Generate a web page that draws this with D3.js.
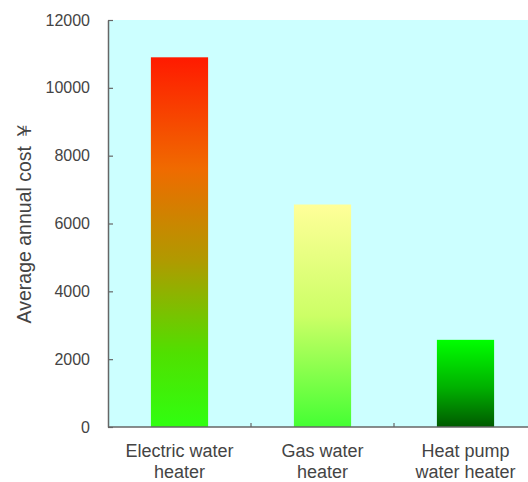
<!DOCTYPE html>
<html>
<head>
<meta charset="utf-8">
<script src="https://cdn.jsdelivr.net/npm/d3@7"></script>
<style>
  html, body { margin: 0; padding: 0; background: #fff; }
  svg { display: block; }
</style>
</head>
<body>
<div id="chart"></div>
<script>
/* Average annual cost of three water heater types, bars with vertical gradients. */

var categories = ['Electric water heater', 'Gas water heater', 'Heat pump water heater'];
var labelLines = [['Electric water', 'heater'], ['Gas water', 'heater'], ['Heat pump', 'water heater']];
var costs = [10900, 6560, 2570];
var yTicks = [0, 2000, 4000, 6000, 8000, 10000, 12000];
var gradientStops = [
  [['0%', '#ff1a00'], ['30%', '#f06a00'], ['55%', '#b09a00'], ['80%', '#50e000'], ['100%', '#30ff10']],
  [['0%', '#ffff99'], ['50%', '#ccff66'], ['100%', '#44ff33']],
  [['0%', '#00ff00'], ['55%', '#00b000'], ['100%', '#005a00']]
];

var W = 528, H = 482;
var marginLeft = 108, marginTop = 20, plotRight = 537, plotBottom = 427;

var svg = d3.select('#chart').append('svg')
  .attr('width', W)
  .attr('height', H)
  .style('font-family', 'Arial, "Liberation Sans", sans-serif');

var x = d3.scaleBand()
  .domain(categories)
  .range([marginLeft, plotRight])
  .paddingInner(0.6)
  .paddingOuter(0.3);

var y = d3.scaleLinear()
  .domain([0, 12000])
  .range([plotBottom, marginTop]);

/* gradients */
var defs = svg.append('defs');
gradientStops.forEach(function(stops, i) {
  var g = defs.append('linearGradient')
    .attr('id', 'grad' + i)
    .attr('x1', 0).attr('y1', 0).attr('x2', 0).attr('y2', 1);
  stops.forEach(function(s) {
    g.append('stop').attr('offset', s[0]).attr('stop-color', s[1]);
  });
});

/* plot background */
svg.append('rect')
  .attr('x', marginLeft)
  .attr('y', marginTop)
  .attr('width', plotRight - marginLeft)
  .attr('height', plotBottom - marginTop)
  .attr('fill', '#ccffff');

/* bars */
svg.append('g').selectAll('rect')
  .data(costs)
  .enter().append('rect')
  .attr('x', function(d, i) { return x(categories[i]); })
  .attr('y', function(d) { return y(d); })
  .attr('width', x.bandwidth())
  .attr('height', function(d) { return y(0) - y(d); })
  .attr('fill', function(d, i) { return 'url(#grad' + i + ')'; });

/* y axis, ticks pointing inward */
var yAxis = svg.append('g')
  .attr('transform', 'translate(' + marginLeft + ',0)')
  .call(d3.axisRight(y).tickValues(yTicks).tickSize(5).tickSizeOuter(0).tickFormat(d3.format('d')));
yAxis.select('.domain').attr('stroke', '#666').attr('stroke-width', 1.5);
yAxis.selectAll('.tick line').attr('stroke', '#666').attr('stroke-width', 1.2);
yAxis.selectAll('.tick text')
  .attr('x', -18)
  .attr('text-anchor', 'end')
  .attr('fill', '#444')
  .attr('font-size', '16px');

/* x axis with ticks between categories */
svg.append('line')
  .attr('x1', marginLeft).attr('x2', plotRight)
  .attr('y1', plotBottom).attr('y2', plotBottom)
  .attr('stroke', '#666').attr('stroke-width', 1.5);

var step = x.step();
svg.append('g').selectAll('line')
  .data(categories.slice(1))
  .enter().append('line')
  .attr('x1', function(d) { return x(d) - (step - x.bandwidth()) / 2; })
  .attr('x2', function(d) { return x(d) - (step - x.bandwidth()) / 2; })
  .attr('y1', plotBottom)
  .attr('y2', plotBottom - 4)
  .attr('stroke', '#666')
  .attr('stroke-width', 1.2);

var xLabels = svg.append('g').selectAll('text')
  .data(categories)
  .enter().append('text')
  .attr('x', function(d) { return x(d) + x.bandwidth() / 2; })
  .attr('y', 457)
  .attr('text-anchor', 'middle')
  .attr('fill', '#444')
  .attr('font-size', '18px');

xLabels.each(function(d, i) {
  var t = d3.select(this);
  labelLines[i].forEach(function(line, j) {
    t.append('tspan')
      .attr('x', x(d) + x.bandwidth() / 2)
      .attr('dy', j === 0 ? 0 : 21)
      .text(line);
  });
});

/* y axis title */
svg.append('text')
  .attr('transform', 'translate(31,' + 222 + ') rotate(-90)')
  .attr('text-anchor', 'middle')
  .attr('fill', '#444')
  .attr('font-size', '19.5px')
  .text('Average annual cost ￥');
</script>
</body>
</html>
